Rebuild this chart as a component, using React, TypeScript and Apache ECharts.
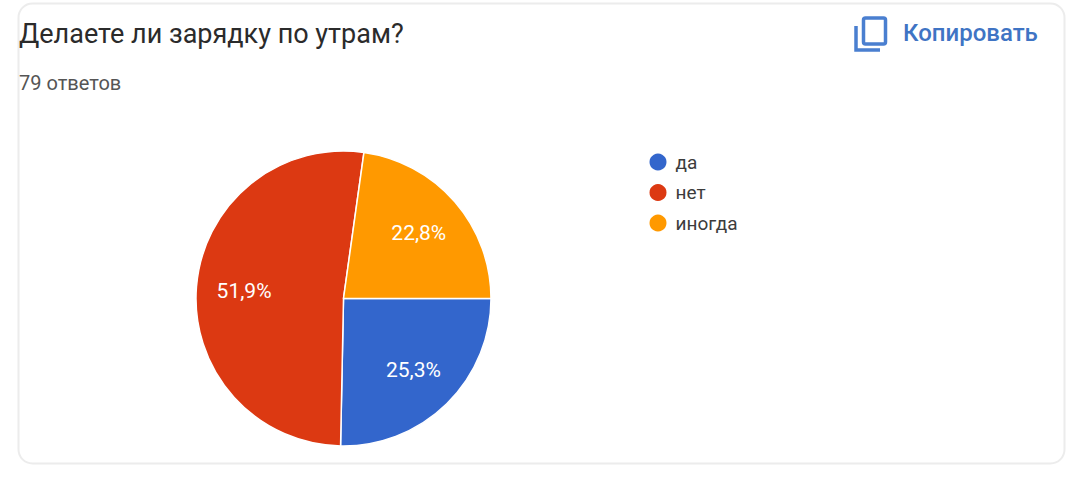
import React, { useEffect, useRef } from "react";
import * as echarts from "echarts";

const categories = ["да", "нет", "иногда"];
const answers = [20, 41, 18];
const colors = ["#3366cc", "#dc3912", "#ff9900"];
const titleText = "Делаете ли зарядку по утрам?";
const subtitleText = "79 ответов";
const copyText = "Копировать";

const CX = 343.5;
const CY = 298.5;
const blue = "#4a7fd0";

export default function App() {
  const ref = useRef<HTMLDivElement>(null);
  useEffect(() => {
    const chart = echarts.init(ref.current!, undefined, { renderer: "svg" });
    chart.setOption({
      animation: false,
      backgroundColor: "#ffffff",
      title: [
        {
          text: titleText,
          left: 14,
          top: 15,
          textStyle: { fontFamily: "Roboto", fontSize: 27, fontWeight: 400, color: "#2b2b2b" },
        },
        {
          text: subtitleText,
          left: 14,
          top: 68,
          textStyle: { fontFamily: "Roboto", fontSize: 20, fontWeight: 400, color: "#555555" },
        },
        {
          text: copyText,
          left: 898,
          top: 16,
          textStyle: { fontFamily: "Roboto", fontSize: 24, fontWeight: 500, color: "#3f74c4" },
        },
      ],
      legend: {
        orient: "vertical",
        left: 642.5,
        top: 146.5,
        icon: "circle",
        itemWidth: 19,
        itemHeight: 19,
        itemGap: 9.5,
        textStyle: { fontFamily: "Roboto", fontSize: 19, color: "#3c3c3c", padding: [0, 0, 0, 3] },
        data: categories,
      },
      graphic: [
        {
          type: "rect",
          z: -1,
          shape: { x: 18.5, y: 3.5, width: 1046, height: 460, r: 14 },
          style: { fill: "#ffffff", stroke: "#ececec", lineWidth: 2 },
        },
        {
          type: "rect",
          shape: { x: 863.5, y: 18, width: 22, height: 26, r: 2 },
          style: { fill: "none", stroke: blue, lineWidth: 3.5 },
        },
        {
          type: "polyline",
          shape: { points: [[856, 26], [856, 50], [880, 50]] },
          style: { fill: "none", stroke: blue, lineWidth: 3.5 },
        },
      ],
      series: [
        {
          type: "pie",
          center: [CX, CY],
          radius: [0, 147.5],
          startAngle: 0,
          clockwise: true,
          percentPrecision: 1,
          itemStyle: { borderColor: "#ffffff", borderWidth: 1.5 },
          label: {
            show: true,
            position: "inside",
            fontFamily: "Roboto",
            fontSize: 21,
            color: "#ffffff",
            formatter: (p: any) => `${p.percent.toFixed(1).replace(".", ",")}%`,
          },
          labelLine: { show: false },
          labelLayout: (p: any) => {
            const lx = p.labelRect.x + p.labelRect.width / 2;
            const ly = p.labelRect.y + p.labelRect.height / 2;
            return { dx: (lx - CX) * 0.3, dy: (ly - CY) * 0.3 };
          },
          data: categories.map((name, i) => ({
            name,
            value: answers[i],
            itemStyle: { color: colors[i] },
          })),
        },
      ],
    });
    return () => chart.dispose();
  }, []);
  return (
    <div
      ref={ref}
      style={{ position: "absolute", left: 0, top: 0, width: 1077, height: 500 }}
    />
  );
}
